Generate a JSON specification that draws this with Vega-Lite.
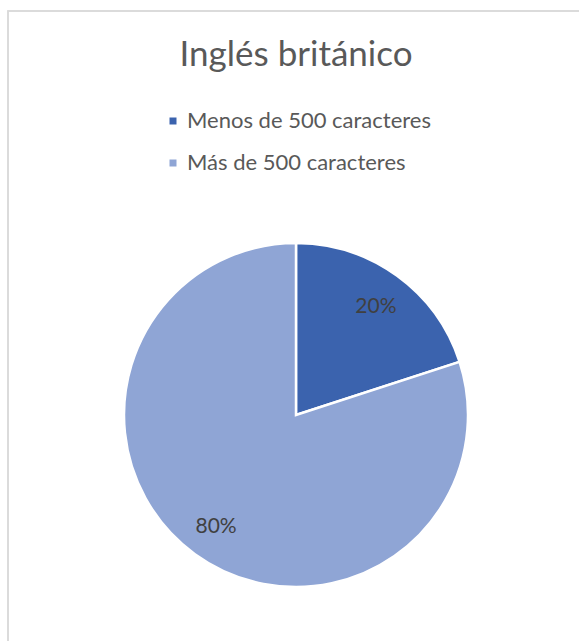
{
  "$schema": "https://vega.github.io/schema/vega-lite/v6.json",
  "autosize": "none",
  "padding": {"left": 8, "top": 11, "right": 0, "bottom": 0},
  "width": 576,
  "height": 808,
  "background": "white",
  "title": {
    "text": "Inglés británico",
    "font": "Lato",
    "fontSize": 35,
    "fontWeight": "normal",
    "color": "#595959",
    "anchor": "middle",
    "baseline": "alphabetic",
    "offset": -57,
    "dy": 34
  },
  "config": {
    "view": {"stroke": "#d9d9d9", "strokeWidth": 1.5}
  },
  "data": {
    "values": [
      {"categoria": "Menos de 500 caracteres", "valor": 20, "etiqueta": "20%"},
      {"categoria": "Más de 500 caracteres", "valor": 80, "etiqueta": "80%"}
    ]
  },
  "layer": [
    {
      "mark": {"type": "rect", "fill": null, "fillOpacity": 0, "stroke": "#d9d9d9", "strokeWidth": 1.5},
      "encoding": {}
    },
    {
      "mark": {"type": "arc", "outerRadius": 172, "stroke": "white", "strokeWidth": 2.5},
      "encoding": {
        "theta": {"field": "valor", "type": "quantitative", "stack": true},
        "order": {"field": "valor", "type": "quantitative", "sort": "ascending"},
        "color": {
          "field": "categoria",
          "type": "nominal",
          "sort": ["Menos de 500 caracteres", "Más de 500 caracteres"],
          "scale": {"domain": ["Menos de 500 caracteres", "Más de 500 caracteres"], "range": ["#3B63AE", "#8FA5D5"]},
          "legend": {
            "title": null,
            "orient": "none",
            "legendX": 154,
            "legendY": 99,
            "direction": "vertical",
            "symbolType": "square",
            "symbolSize": 49,
            "symbolStrokeWidth": 0,
            "labelFont": "Lato",
            "labelFontSize": 22,
            "labelColor": "#595959",
            "labelOffset": 3,
            "labelLimit": 400,
            "rowPadding": 20,
            "padding": 0
          }
        }
      }
    },
    {
      "mark": {"type": "text", "radius": 136, "font": "Lato", "fontSize": 21, "color": "#404040", "dy": 2},
      "encoding": {
        "theta": {"field": "valor", "type": "quantitative", "stack": true},
        "order": {"field": "valor", "type": "quantitative", "sort": "ascending"},
        "text": {"field": "etiqueta", "type": "nominal"}
      }
    }
  ]
}
